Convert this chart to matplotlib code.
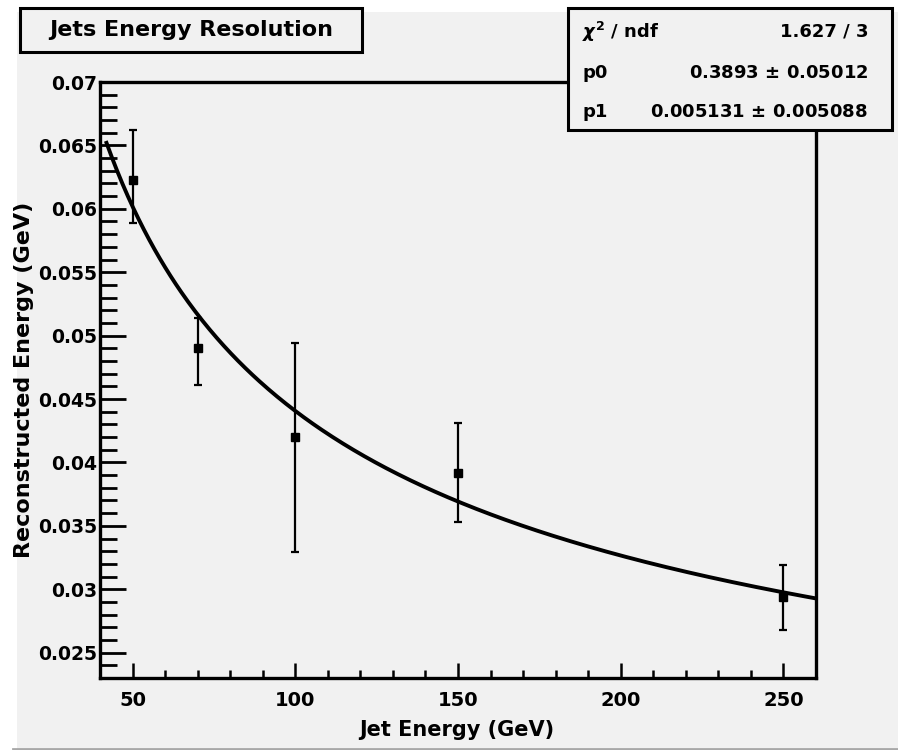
import matplotlib.pyplot as plt
import matplotlib.patches as patches
from matplotlib.ticker import MultipleLocator, FuncFormatter
import numpy as np

# jet energy points and measured resolution
energy = [50, 70, 100, 150, 250]
resolution = [0.0623, 0.0490, 0.0420, 0.0392, 0.0294]
err_low = [0.0034, 0.0029, 0.0091, 0.0039, 0.0026]
err_high = [0.0039, 0.0024, 0.0074, 0.0039, 0.0025]

# fit result: sigma = p0 / sqrt(E) + p1
p0, p0_err = 0.3893, 0.05012
p1, p1_err = 0.005131, 0.005088
chi2, ndf = 1.627, 3
fit_range = (42, 260)

W, H = 898, 750
bg = '#f1f1f1'

plt.rcParams['font.family'] = ['DejaVu Sans']
plt.rcParams['font.weight'] = 'bold'

fig = plt.figure(figsize=(W / 100, H / 100), dpi=100, facecolor='white')

# canvas pad
fig.add_artist(patches.Rectangle((17 / W, 0), 1, 1 - 12 / H, transform=fig.transFigure,
                                 facecolor=bg, edgecolor='none', zorder=-5))
fig.add_artist(plt.Line2D([13 / W, 1], [1.5 / H, 1.5 / H], transform=fig.transFigure,
                          color='#a8a8a8', lw=2, zorder=-4))

ax = fig.add_axes([100 / W, 1 - 678 / H, 716 / W, 596 / H])
ax.set_facecolor(bg)

ax.errorbar(energy, resolution, yerr=[err_low, err_high], fmt='s', color='black',
            markersize=6, elinewidth=1.6, capsize=3, capthick=1.6, zorder=3)

xf = np.linspace(fit_range[0], fit_range[1], 400)
ax.plot(xf, p0 / np.sqrt(xf) + p1, color='black', lw=2.8, zorder=2)

ax.set_xlim(40, 260)
ax.set_ylim(0.023, 0.07)

ax.xaxis.set_major_locator(MultipleLocator(50))
ax.xaxis.set_minor_locator(MultipleLocator(10))
ax.yaxis.set_major_locator(MultipleLocator(0.005))
ax.yaxis.set_minor_locator(MultipleLocator(0.001))
ax.yaxis.set_major_formatter(FuncFormatter(lambda v, p: '%g' % round(v, 4)))

ax.tick_params(axis='y', which='major', direction='in', length=19, width=2, pad=2,
               labelsize=13.5)
ax.tick_params(axis='y', which='minor', direction='in', length=12, width=2)
ax.tick_params(axis='x', which='major', direction='in', length=11, width=1.8, pad=9,
               labelsize=14)
ax.tick_params(axis='x', which='minor', direction='in', length=5.5, width=1.8)

for s in ax.spines.values():
    s.set_linewidth(2.4)
    s.set_color('black')

fig.text(457 / W, 1 - 730 / H, 'Jet Energy (GeV)', ha='center', va='center',
         fontsize=15)
fig.text(24 / W, 1 - 380 / H, 'Reconstructed Energy (GeV)', ha='center', va='center',
         rotation=90, fontsize=16)

# title box
fig.add_artist(patches.Rectangle((20 / W, 1 - 52 / H), 342 / W, 44 / H,
                                 transform=fig.transFigure, facecolor=bg,
                                 edgecolor='black', lw=2.2, zorder=5))
fig.text(191 / W, 1 - 30 / H, 'Jets Energy Resolution', ha='center', va='center',
         fontsize=16, zorder=6)

# fit statistics box
fig.add_artist(patches.Rectangle((568 / W, 1 - 130 / H), 324 / W, 122 / H,
                                 transform=fig.transFigure, facecolor=bg,
                                 edgecolor='black', lw=2.2, zorder=5))
rows = [
    (r'$\chi^2$ / ndf', '%g / %d' % (chi2, ndf)),
    ('p0', '%g $\\pm$ %g' % (p0, p0_err)),
    ('p1', '%g $\\pm$ %g' % (p1, p1_err)),
]
for (left, right), yc in zip(rows, [32, 73, 112]):
    fig.text(582 / W, 1 - yc / H, left, ha='left', va='center', fontsize=13, zorder=6)
    fig.text(868 / W, 1 - yc / H, right, ha='right', va='center', fontsize=13, zorder=6)

fig.savefig('out.png', dpi=100, facecolor=fig.get_facecolor())
